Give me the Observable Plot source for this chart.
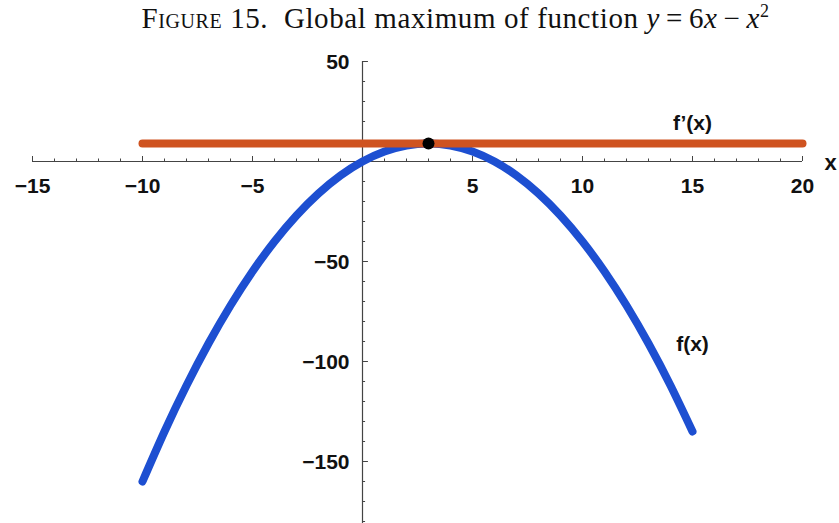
<!DOCTYPE html>
<html>
<head>
<meta charset="utf-8">
<script src="https://cdn.jsdelivr.net/npm/d3@7"></script>
<script src="https://cdn.jsdelivr.net/npm/@observablehq/plot@0.6"></script>
<style>
  body { margin: 0; background: #fff; }
  #title { height: 40px; box-sizing: border-box; padding-left: 72px; font-family: "Liberation Serif", "DejaVu Serif", serif; font-size: 29px; letter-spacing: 0.6px; text-align: center; line-height: 36px; color: #111; white-space: nowrap; }
  #title .sc { font-variant: small-caps; }
  #title i { font-style: italic; }
  #title sup { font-size: 18px; line-height: 0; }
  #title .op { padding: 0 6px; }
</style>
</head>
<body>
<div id="title"><span class="sc">Figure</span> 15.&nbsp; Global maximum of function <i>y</i><span class="op">=</span>6<i>x</i><span class="op">−</span><i>x</i><sup>2</sup></div>
<div id="chart"></div>
<script>
// f(x) = 6x - x^2, read at integer x
const fx = [-10,-9,-8,-7,-6,-5,-4,-3,-2,-1,0,1,2,3,4,5,6,7,8,9,10,11,12,13,14,15];
const fy = [-160,-135,-112,-91,-72,-55,-40,-27,-16,-7,0,5,8,9,8,5,0,-7,-16,-27,-40,-55,-72,-91,-112,-135];
// horizontal tangent line
const tangentX = [-10, 20];
const tangentY = 9;
// maximum point
const maxX = 3, maxY = 9;
// axis ticks
const xMajor = [-15,-10,-5,5,10,15,20];
const xMinor = d3.range(-15, 21, 1);
const yMajor = [50,-50,-100,-150];
const yMinor = d3.range(-180, 51, 10);
// curve labels
const labelText = ["f’(x)", "f(x)"];
const labelX = [15, 15];
const labelY = [19, -91.5];

const curve = fx.map((x, i) => ({x, y: fy[i]}));
const tangent = tangentX.map(x => ({x, y: tangentY}));
const labels = labelText.map((t, i) => ({t, x: labelX[i], y: labelY[i]}));
const xTicks = xMinor.map(v => ({v, major: v % 5 === 0}));
const yTicks = yMinor.map(v => ({v, major: v % 50 === 0}));
const fmt = v => v < 0 ? "\u2212" + Math.abs(v) : String(v);

const axisColor = "#444";
const font = "Liberation Sans, Arial, sans-serif";

const chart = Plot.plot({
  width: 839,
  height: 483,
  marginLeft: 32,
  marginRight: 37,
  marginTop: 21,
  marginBottom: 0,
  x: {type: "linear", domain: [-15, 20], axis: null},
  y: {type: "linear", domain: [-181, 50], axis: null},
  style: {fontFamily: font, background: "white", overflow: "visible"},
  marks: [
    // axes lines
    Plot.ruleY([0], {x1: -15, x2: 20, stroke: axisColor, strokeWidth: 1.2}),
    Plot.ruleX([0], {y1: -181, y2: 50, stroke: axisColor, strokeWidth: 1.2}),
    // x ticks (upward)
    Plot.ruleX(xTicks, {x: "v", y1: 0, y2: d => d.major ? 2.5 : 1.25, stroke: axisColor, strokeWidth: 1}),
    // y ticks (rightward)
    Plot.ruleY(yTicks, {y: "v", x1: 0, x2: d => d.major ? 0.27 : 0.14, stroke: axisColor, strokeWidth: 1}),
    // function curve
    Plot.line(curve, {x: "x", y: "y", stroke: "#1d4fd1", strokeWidth: 8, curve: "natural", strokeLinecap: "round", strokeLinejoin: "round"}),
    // tangent line
    Plot.line(tangent, {x: "x", y: "y", stroke: "#cf5320", strokeWidth: 8, strokeLinecap: "round"}),
    Plot.dot([{x: maxX, y: maxY}], {x: "x", y: "y", r: 6, fill: "black", stroke: "none"}),
    // x tick labels
    Plot.text(xMajor, {x: d => d, y: () => 0, text: fmt, dy: 25, fontSize: 21, fontWeight: "bold", fill: "#111"}),
    // y tick labels
    Plot.text(yMajor, {x: () => 0, y: d => d, text: fmt, dx: -13, dy: 1, textAnchor: "end", fontSize: 21, fontWeight: "bold", fill: "#111"}),
    // axis label
    Plot.text(["x"], {x: () => 20, y: () => 0, text: d => d, dx: 28, dy: 1, fontSize: 22, fontWeight: "bold", fill: "#111"}),
    // curve labels
    Plot.text(labels, {x: "x", y: "y", text: "t", fontSize: 21, fontWeight: "bold", fill: "#111"})
  ]
});

document.getElementById("chart").appendChild(chart);
</script>
</body>
</html>
